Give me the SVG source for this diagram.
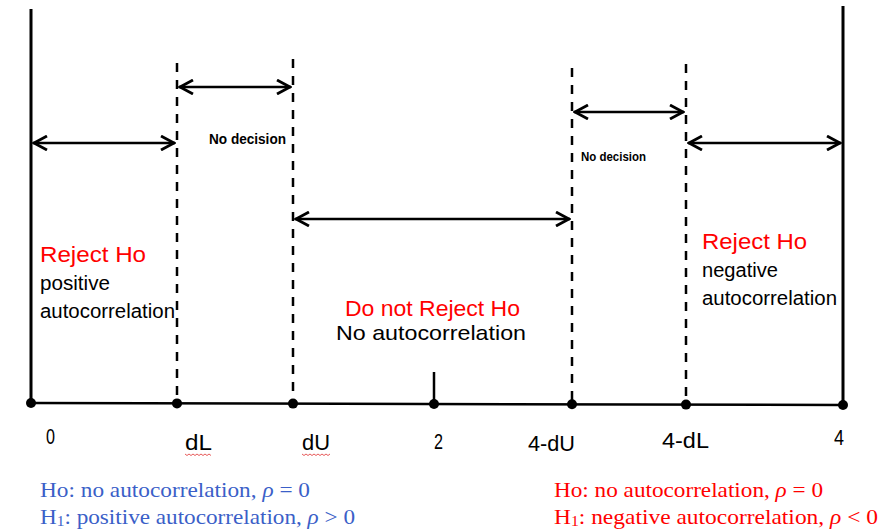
<svg xmlns="http://www.w3.org/2000/svg" width="896" height="529" viewBox="0 0 896 529">
<style>
.solid{stroke:#000;stroke-width:3;fill:none}
.axis{stroke:#000;stroke-width:2.5;fill:none}
.dash{stroke:#000;stroke-width:2.5;stroke-dasharray:9 8;fill:none}
.arr{stroke:#000;stroke-width:2.5;fill:none;marker-start:url(#ah);marker-end:url(#ah)}
.dot{fill:#000}
.sans{font-family:"Liberation Sans",Arial,sans-serif}
.big{font-size:22px}
.red{fill:#ff0000}
.blk{fill:#000}
.nd{font-family:"Liberation Sans",Arial,sans-serif;font-size:14px;font-weight:bold;fill:#000}
.lab{font-family:"Liberation Sans",Arial,sans-serif;font-size:22px;fill:#000}
.ser{font-family:"Liberation Serif","Times New Roman",serif;font-size:21px}
.blue{fill:#3b5fc8}
.wavy{stroke:#e03030;stroke-width:0.8;fill:none}
</style>
<defs>
<marker id="ah" viewBox="-16 -8 17 16" refX="0" refY="0" markerWidth="17" markerHeight="16" markerUnits="userSpaceOnUse" orient="auto-start-reverse">
<path d="M-14,-7 L-1,0 L-14,7" stroke="#000" stroke-width="2.8" fill="none" stroke-linejoin="miter"/>
</marker>
</defs>
<rect width="896" height="529" fill="#fff"/>
<g id="connectors">
<line class="solid" x1="31" y1="9" x2="31" y2="403"/>
<line class="solid" x1="843" y1="6" x2="843" y2="405"/>
<line class="axis" x1="31" y1="403" x2="843" y2="405"/>
<line class="dash" x1="177" y1="63" x2="177" y2="403"/>
<line class="dash" x1="293" y1="59" x2="293" y2="403"/>
<line class="dash" x1="572" y1="68" x2="572" y2="404"/>
<line class="dash" x1="686" y1="64" x2="686" y2="404"/>
<line class="axis" x1="434" y1="372" x2="434" y2="404"/>
<line class="arr" x1="33" y1="143" x2="175" y2="143"/>
<line class="arr" x1="179" y1="87" x2="291" y2="87"/>
<line class="arr" x1="295" y1="219" x2="570" y2="219"/>
<line class="arr" x1="574" y1="112" x2="684" y2="112"/>
<line class="arr" x1="688" y1="143" x2="841" y2="143"/>
<circle class="dot" cx="31" cy="403" r="5"/>
<circle class="dot" cx="177" cy="403.4" r="5"/>
<circle class="dot" cx="293" cy="403.6" r="5"/>
<circle class="dot" cx="434" cy="404" r="5"/>
<circle class="dot" cx="572" cy="404.3" r="5"/>
<circle class="dot" cx="686" cy="404.6" r="5"/>
<circle class="dot" cx="843" cy="405" r="5"/>
</g>
<g id="nodecision-left"><text class="nd" x="209" y="144" textLength="77" lengthAdjust="spacingAndGlyphs">No decision</text></g>
<g id="nodecision-right"><text class="nd" x="581" y="161" textLength="65" lengthAdjust="spacingAndGlyphs" style="font-size:13px">No decision</text></g>
<g id="region-left">
<text class="sans big red" x="40" y="262" textLength="106" lengthAdjust="spacingAndGlyphs">Reject Ho</text>
<text class="sans blk" x="40" y="290" font-size="20" textLength="70" lengthAdjust="spacingAndGlyphs">positive</text>
<text class="sans blk" x="40" y="318" font-size="20" textLength="135" lengthAdjust="spacingAndGlyphs">autocorrelation</text>
</g>
<g id="region-middle">
<text class="sans big red" x="345" y="316" textLength="175" lengthAdjust="spacingAndGlyphs">Do not Reject Ho</text>
<text class="sans blk" x="336" y="340" font-size="21" textLength="190" lengthAdjust="spacingAndGlyphs">No autocorrelation</text>
</g>
<g id="region-right">
<text class="sans big red" x="702" y="249" textLength="105" lengthAdjust="spacingAndGlyphs">Reject Ho</text>
<text class="sans blk" x="702" y="277" font-size="20" textLength="76" lengthAdjust="spacingAndGlyphs">negative</text>
<text class="sans blk" x="702" y="305" font-size="20" textLength="135" lengthAdjust="spacingAndGlyphs">autocorrelation</text>
</g>
<g id="axis-labels">
<text class="lab" x="46" y="444" textLength="9" lengthAdjust="spacingAndGlyphs">0</text>
<text class="lab" x="185" y="450" textLength="27" lengthAdjust="spacingAndGlyphs">dL</text>
<path class="wavy" d="M185,454 l2,1.5 l2,-1.5 l2,1.5 l2,-1.5 l2,1.5 l2,-1.5 l2,1.5 l2,-1.5 l2,1.5 l2,-1.5 l2,1.5 l2,-1.5 l2,1.5"/>
<text class="lab" x="302" y="450" textLength="28" lengthAdjust="spacingAndGlyphs">dU</text>
<path class="wavy" d="M302,454 l2,1.5 l2,-1.5 l2,1.5 l2,-1.5 l2,1.5 l2,-1.5 l2,1.5 l2,-1.5 l2,1.5 l2,-1.5 l2,1.5 l2,-1.5 l2,1.5 l2,-1.5"/>
<text class="lab" x="434" y="449" textLength="9" lengthAdjust="spacingAndGlyphs">2</text>
<text class="lab" x="528" y="451" textLength="47" lengthAdjust="spacingAndGlyphs">4-dU</text>
<text class="lab" x="662" y="448" textLength="47" lengthAdjust="spacingAndGlyphs">4-dL</text>
<text class="lab" x="834" y="445" textLength="10" lengthAdjust="spacingAndGlyphs">4</text>
</g>
<g id="hypotheses-left">
<text class="ser blue" x="40" y="497" textLength="270" lengthAdjust="spacingAndGlyphs">Ho: no autocorrelation, <tspan font-style="italic">ρ</tspan> = 0</text>
<text class="ser blue" x="40" y="524" textLength="315" lengthAdjust="spacingAndGlyphs">H<tspan font-size="14" dy="2">1</tspan><tspan dy="-2">: positive autocorrelation, </tspan><tspan font-style="italic">ρ</tspan> &gt; 0</text>
</g>
<g id="hypotheses-right">
<text class="ser red" x="554" y="497" textLength="269" lengthAdjust="spacingAndGlyphs">Ho: no autocorrelation, <tspan font-style="italic">ρ</tspan> = 0</text>
<text class="ser red" x="554" y="524" textLength="324" lengthAdjust="spacingAndGlyphs">H<tspan font-size="14" dy="2">1</tspan><tspan dy="-2">: negative autocorrelation, </tspan><tspan font-style="italic">ρ</tspan> &lt; 0</text>
</g>
</svg>
